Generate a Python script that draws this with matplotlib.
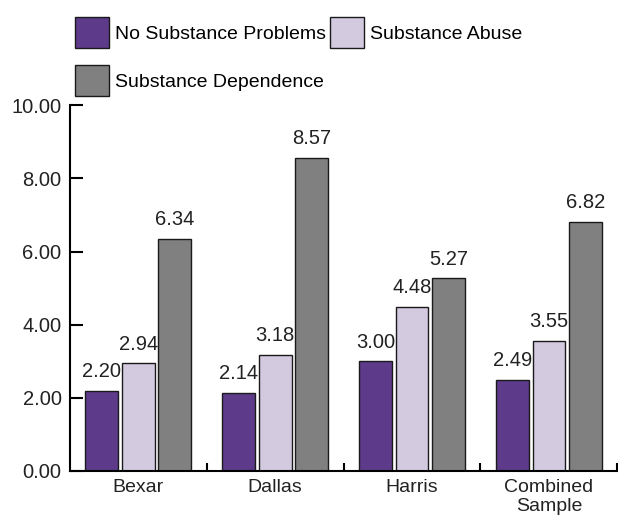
import numpy as np
import matplotlib.pyplot as plt
from matplotlib.ticker import FixedLocator

plt.rcParams['font.family'] = ['Liberation Sans', 'DejaVu Sans']

categories = ["Bexar", "Dallas", "Harris", "Combined\nSample"]
series_names = ["No Substance Problems", "Substance Abuse", "Substance Dependence"]
no_problems = [2.20, 2.14, 3.00, 2.49]
abuse = [2.94, 3.18, 4.48, 3.55]
dependence = [6.34, 8.57, 5.27, 6.82]
colors = ["#5e3a8a", "#d3cae0", "#808080"]

fig = plt.figure(figsize=(6.18, 5.21), dpi=100)
ax = fig.add_axes([0.113, 0.096, 0.886, 0.702])

x = np.arange(len(categories))
width = 0.24
offset = 0.266
handles = []
for i, (vals, name, col) in enumerate(zip([no_problems, abuse, dependence], series_names, colors)):
    pos = x + (i - 1) * offset
    bars = ax.bar(pos, vals, width, color=col, edgecolor="#1a1a1a", linewidth=1.0, label=name)
    handles.append(bars)
    for p, v in zip(pos, vals):
        ax.annotate(f"{v:.2f}", (p, v), xytext=(0, 7), textcoords="offset points",
                    ha="center", va="bottom", fontsize=14.5, color="#222222")

ax.set_xlim(-0.5, len(categories) - 0.5)
ax.set_ylim(0, 10)
ax.set_yticks(np.arange(0, 10.01, 2))
ax.set_yticklabels([f"{t:.2f}" for t in np.arange(0, 10.01, 2)])
ax.set_xticks(x)
ax.set_xticklabels(categories, linespacing=1.1)
ax.xaxis.set_minor_locator(FixedLocator(np.arange(0.5, len(categories), 1.0)))
ax.tick_params(axis="x", which="major", length=0, labelsize=14, pad=6, colors="#222222")
ax.tick_params(axis="x", which="minor", direction="in", length=6, width=1.5)
ax.tick_params(axis="y", direction="in", length=9, width=1.5, labelsize=14.5, pad=6, colors="#222222")
ax.tick_params(axis="both", color="black")
for s in ["top", "right"]:
    ax.spines[s].set_visible(False)
for s in ["left", "bottom"]:
    ax.spines[s].set_linewidth(1.5)

order = [handles[0], handles[2], handles[1]]
labels = [series_names[0], series_names[2], series_names[1]]
fig.legend(order, labels, loc="upper left", bbox_to_anchor=(0.098, 0.995), ncol=2,
           frameon=False, fontsize=14, handlelength=1.75, handleheight=2.1,
           handletextpad=0.3, columnspacing=0.2, labelspacing=0.85, borderpad=0.25)

fig.savefig("out.png", dpi=100)
